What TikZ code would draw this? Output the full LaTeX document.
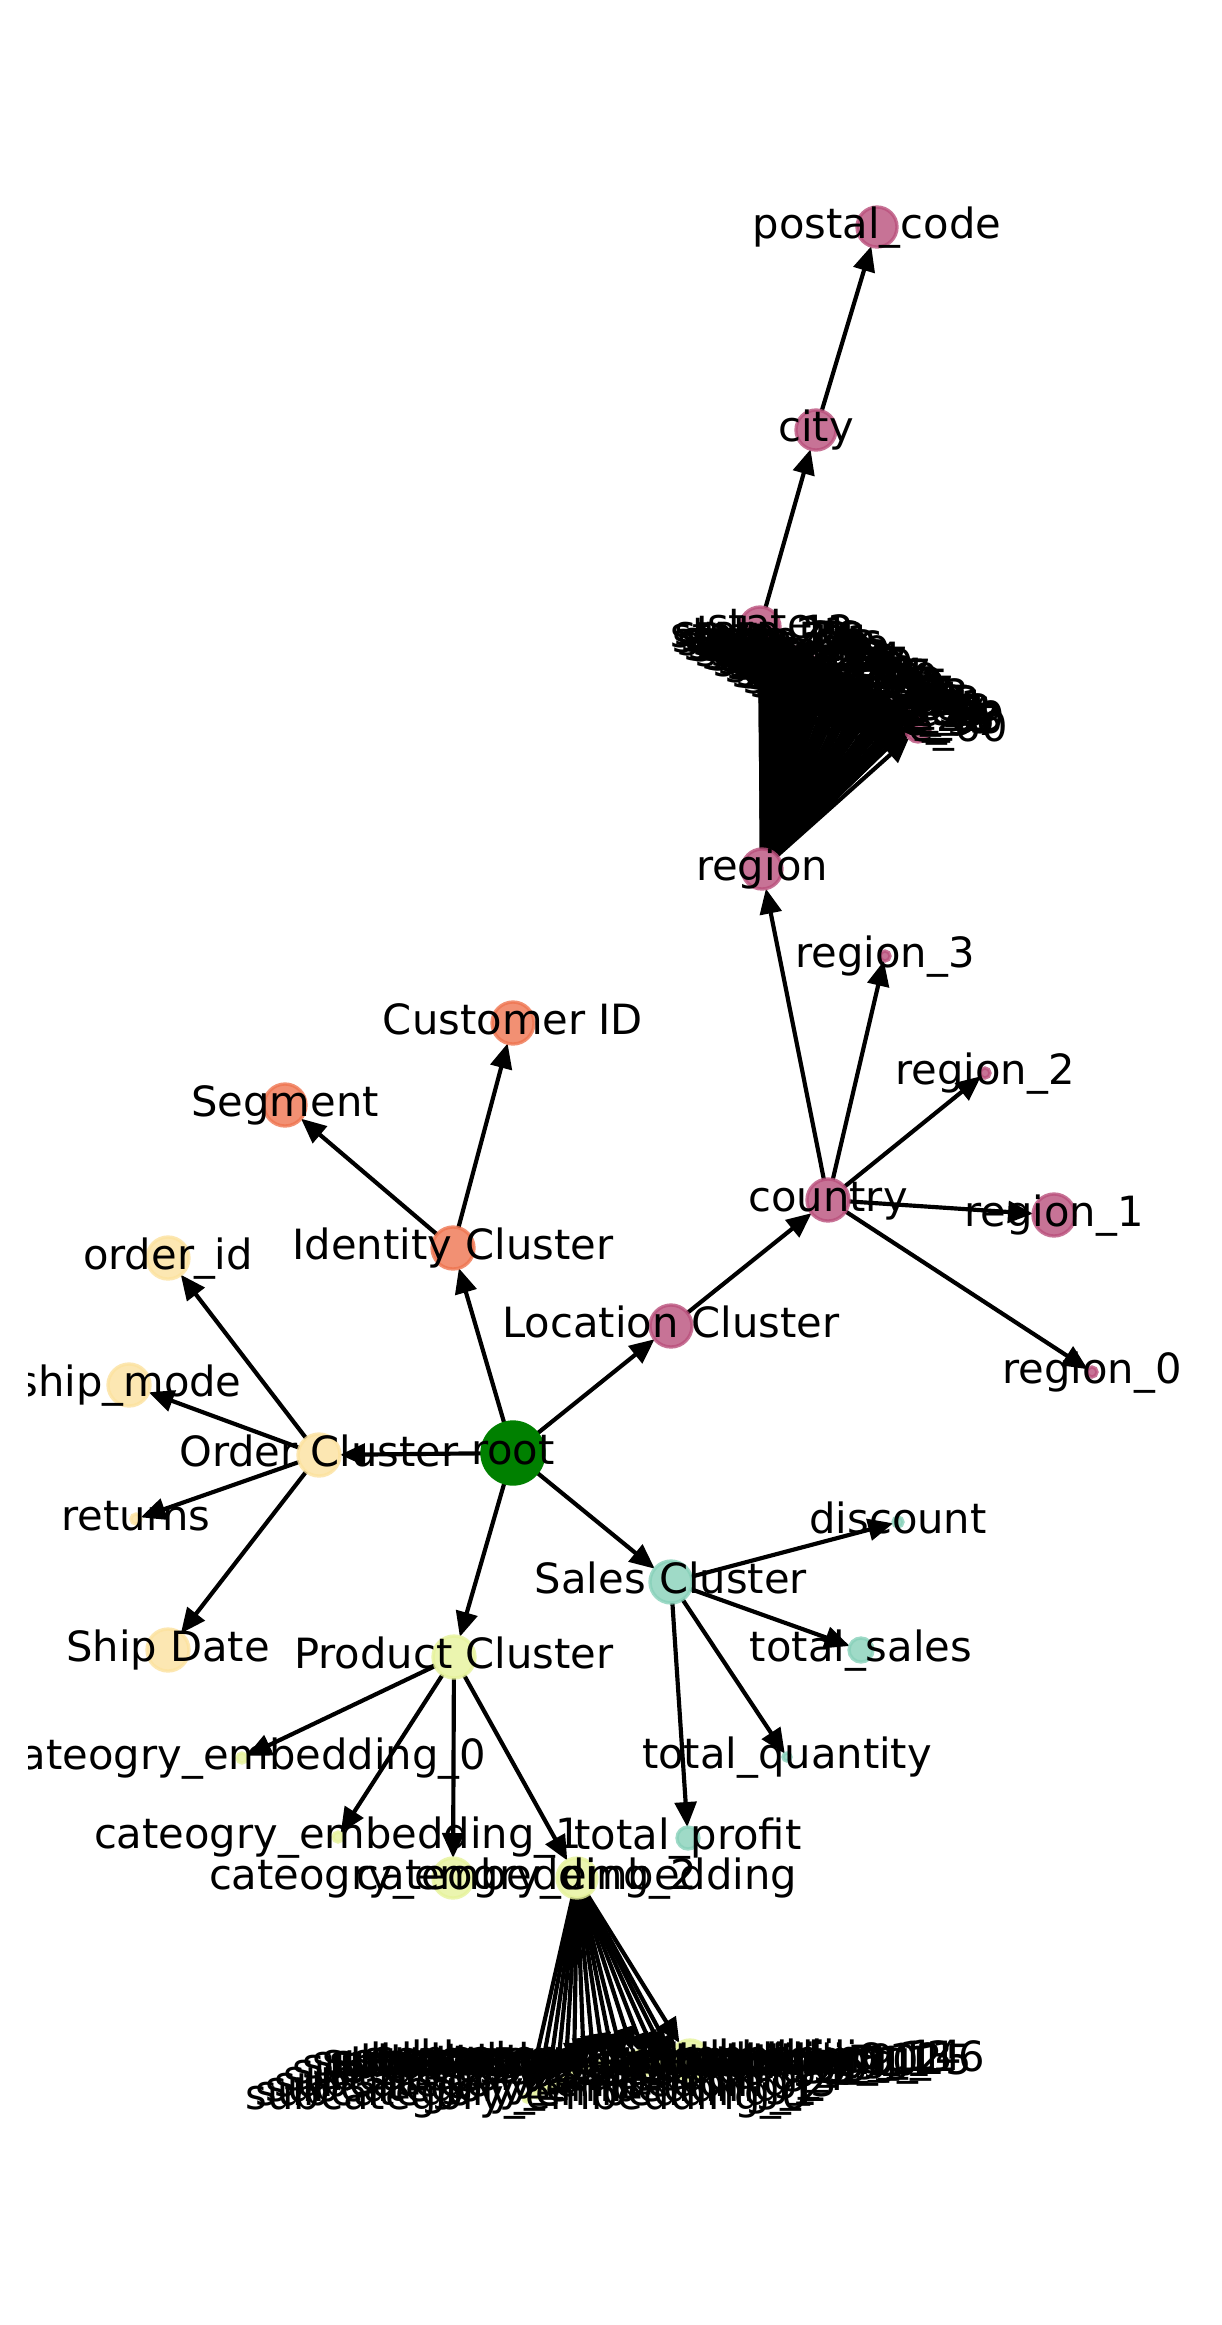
\documentclass[tikz,border=0pt]{standalone}
\usepackage{fontspec}
\setmainfont{DejaVu Sans}
\usetikzlibrary{arrows.meta}
\pgfdeclarelayer{bg}
\pgfdeclarelayer{fg}
\pgfsetlayers{bg,main,fg}
\definecolor{locc}{RGB}{186,80,124}
\definecolor{idc}{RGB}{239,117,80}
\definecolor{ordc}{RGB}{252,226,159}
\definecolor{prodc}{RGB}{230,243,155}
\definecolor{salc}{RGB}{136,209,186}
\definecolor{rootc}{RGB}{0,128,0}
\begin{document}
\begin{tikzpicture}[x=0.24pt,y=-0.24pt,
  bub/.style={circle,inner sep=0pt,outer sep=0pt,line width=0.8pt,fill opacity=0.8,draw opacity=0.8},
  rad/.style={minimum size=#1*0.48pt},
  locs/.style={bub,fill=locc,draw=locc},
  ids/.style={bub,fill=idc,draw=idc},
  ords/.style={bub,fill=ordc,draw=ordc},
  prods/.style={bub,fill=prodc,draw=prodc},
  sals/.style={bub,fill=salc,draw=salc},
  roots/.style={circle,inner sep=0pt,outer sep=0pt,fill=rootc,draw=rootc,line width=0.8pt},
  lbl/.style={inner sep=0pt,outer sep=0pt,text height=7.6pt,text depth=2.1pt,font=\fontsize{10pt}{12pt}\selectfont,text=black},
  conn/.style={line width=1pt,-{Triangle[length=6pt,width=5.2pt]}}
]
\useasboundingbox (0,0) rectangle (1222,2325);
\begin{pgfonlayer}{bg}
\fill[white] (0,0) rectangle (1222,2325);
\end{pgfonlayer}

% ---------- nodes ----------
\node[roots,rad=31] (root) at (513,1453) {};
% order
\node[ords,rad=21] (ord) at (319,1455) {};
\node[ords,rad=21] (oid) at (168,1258) {};
\node[ords,rad=21] (shm) at (129,1385) {};
\node[ords,rad=5]  (ret) at (136,1519) {};
\node[ords,rad=21] (shd) at (168,1650) {};
% identity
\node[ids,rad=21] (idn) at (453,1248) {};
\node[ids,rad=21] (cid) at (513,1023) {};
\node[ids,rad=21] (seg) at (285,1105) {};
% location
\node[locs,rad=21] (locn) at (671,1326) {};
\node[locs,rad=21] (cty) at (828,1200) {};
\node[locs,rad=5]  (rg0) at (1092,1372) {};
\node[locs,rad=21] (rg1) at (1054,1215) {};
\node[locs,rad=5]  (rg2) at (985,1073) {};
\node[locs,rad=5]  (rg3) at (885,956) {};
\node[locs,rad=20] (reg) at (762,869) {};
\node[locs,rad=20] (stt) at (760,627) {};
\node[locs,rad=20] (city) at (816,430) {};
\node[locs,rad=20] (pc) at (877,227) {};
\foreach \k in {0,...,69}{
  \pgfmathsetmacro\sx{760+\k*158/69}
  \pgfmathsetmacro\sy{636+\k*89/69+5*sin(\k*137)}
  \pgfmathsetmacro\sr{\k==69 ? 12 : 4}
  \node[locs,rad=\sr] (st\k) at (\sx,\sy) {};
}
% sales
\node[sals,rad=21] (sal) at (671,1582) {};
\node[sals,rad=5]  (dis) at (898,1522) {};
\node[sals,rad=12] (tsa) at (861,1650) {};
\node[sals,rad=4]  (tqu) at (787,1757) {};
\node[sals,rad=11] (tpr) at (688,1838) {};
% product
\node[prods,rad=21] (prd) at (454,1657) {};
\node[prods,rad=5]  (ce0) at (242,1758) {};
\node[prods,rad=5]  (ce1) at (338,1837) {};
\node[prods,rad=20] (ce2) at (453,1878) {};
\node[prods,rad=20] (cem) at (577,1878) {};
\foreach \k/\x/\y/\r in {0/527/2098/4,1/537/2094/4,2/547/2090/4,3/556/2085/4,4/565/2079/4,
  5/574/2072/4,6/584/2067/4,7/594/2064/4,8/604/2062/4,9/614/2063/4,10/624/2064/4,
  11/637/2065/14,12/648/2062/4,13/658/2060/4,14/667/2059/4,15/677/2063/4,16/690/2060/20}{
  \node[prods,rad=\r] (sub\k) at (\x,\y) {};
}

% ---------- connectors ----------
\begin{pgfonlayer}{bg}
\draw[conn] (root) -- (ord);
\draw[conn] (root) -- (idn);
\draw[conn] (root) -- (locn);
\draw[conn] (root) -- (sal);
\draw[conn] (root) -- (prd);
\draw[conn] (ord) -- (oid);
\draw[conn] (ord) -- (shm);
\draw[conn] (ord) -- (ret);
\draw[conn] (ord) -- (shd);
\draw[conn] (idn) -- (seg);
\draw[conn] (idn) -- (cid);
\draw[conn] (locn) -- (cty);
\draw[conn] (cty) -- (reg);
\draw[conn] (cty) -- (rg0);
\draw[conn] (cty) -- (rg1);
\draw[conn] (cty) -- (rg2);
\draw[conn] (cty) -- (rg3);
\draw[conn] (reg) -- (stt);
\foreach \k in {0,...,69}{ \draw[conn] (reg) -- (st\k); }
\draw[conn] (stt) -- (city);
\draw[conn] (city) -- (pc);
\draw[conn] (sal) -- (dis);
\draw[conn] (sal) -- (tsa);
\draw[conn] (sal) -- (tqu);
\draw[conn] (sal) -- (tpr);
\draw[conn] (prd) -- (ce0);
\draw[conn] (prd) -- (ce1);
\draw[conn] (prd) -- (ce2);
\draw[conn] (prd) -- (cem);
\foreach \k in {0,...,16}{ \draw[conn] (cem) -- (sub\k); }
\end{pgfonlayer}

% ---------- labels ----------
\begin{pgfonlayer}{fg}
\begin{scope}
\clip (28,0) rectangle (1222,2325);
\node[lbl] (root-t) at (root) {root};
\node[lbl] (ord-t) at (ord) {Order Cluster};
\node[lbl] (oid-t) at (oid) {order\_id};
\node[lbl] (shm-t) at (shm) {ship\_mode};
\node[lbl] (ret-t) at (ret) {returns};
\node[lbl] (shd-t) at (shd) {Ship Date};
\node[lbl] (idn-t) at (idn) {Identity Cluster};
\node[lbl] (cid-t) at (cid) {Customer ID};
\node[lbl] (seg-t) at (seg) {Segment};
\node[lbl] (locn-t) at (locn) {Location Cluster};
\node[lbl] (cty-t) at (cty) {country};
\node[lbl] (rg0-t) at (rg0) {region\_0};
\node[lbl] (rg1-t) at (rg1) {region\_1};
\node[lbl] (rg2-t) at (rg2) {region\_2};
\node[lbl] (rg3-t) at (rg3) {region\_3};
\node[lbl] (reg-t) at (reg) {region};
\node[lbl] (stt-t) at (stt) {state};
\node[lbl] (city-t) at (city) {city};
\node[lbl] (pc-t) at (pc) {postal\_code};
\foreach \k in {0,...,69}{
  \pgfmathtruncatemacro\sl{mod(\k*31+21,70)}
  \node[lbl] (st\k-t) at (st\k) {state\_\sl};
}
\node[lbl] (sal-t) at (sal) {Sales Cluster};
\node[lbl] (dis-t) at (dis) {discount};
\node[lbl] (tsa-t) at (tsa) {total\_sales};
\node[lbl] (tqu-t) at (tqu) {total\_quantity};
\node[lbl] (tpr-t) at (tpr) {total\_profit};
\node[lbl] (prd-t) at (prd) {Product Cluster};
\node[lbl] (ce0-t) at (ce0) {cateogry\_embedding\_0};
\node[lbl] (ce1-t) at (ce1) {cateogry\_embedding\_1};
\node[lbl] (ce2-t) at (ce2) {cateogry\_embedding\_2};
\node[lbl] (cem-t) at (cem) {cateogry\_embedding};
\foreach \k in {0,...,16}{
  \node[lbl] (sub\k-t) at (sub\k) {subcategory\_embedding\_\k};
}
\end{scope}
\end{pgfonlayer}
\end{tikzpicture}
\end{document}
